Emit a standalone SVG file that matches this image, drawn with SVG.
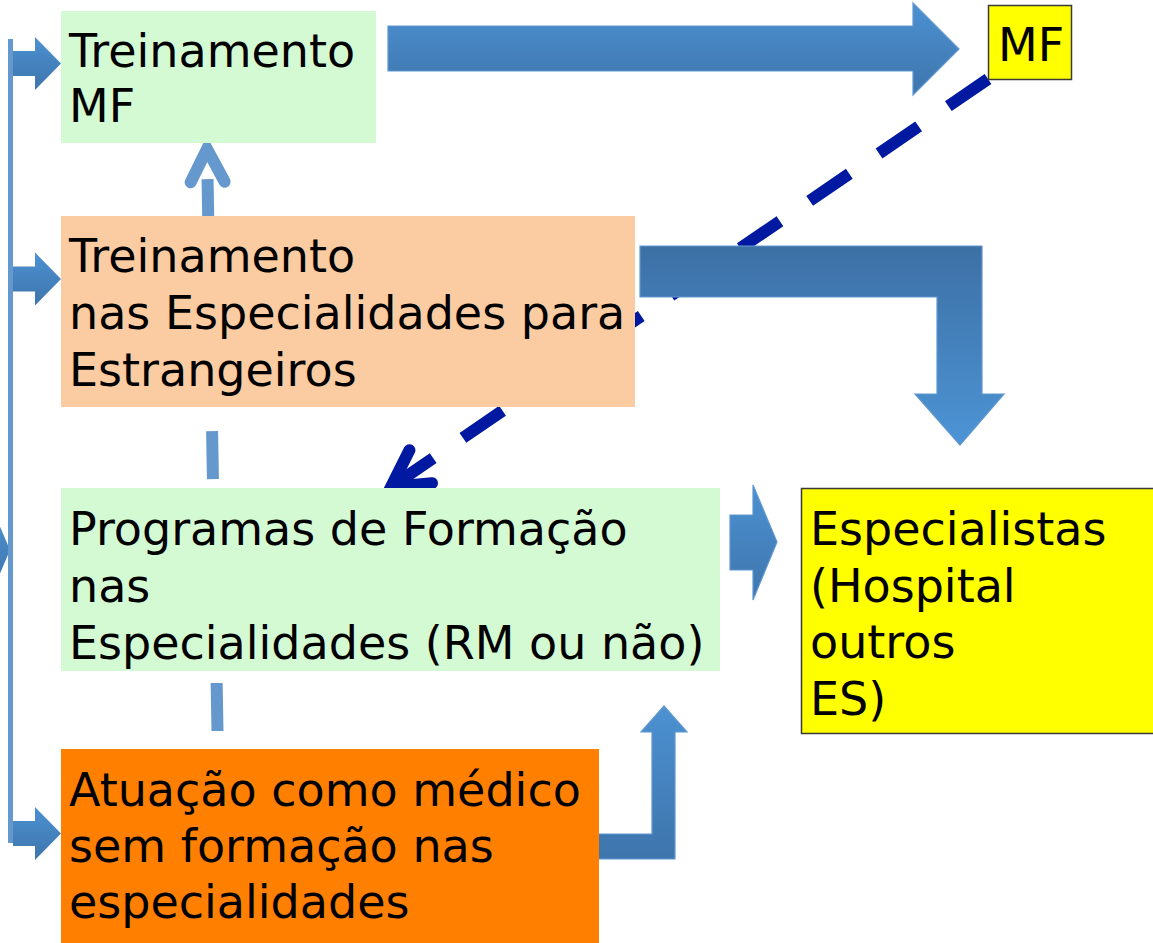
<svg xmlns="http://www.w3.org/2000/svg" width="1153" height="943" viewBox="0 0 1153 943">
<style>
text{font-family:"DejaVu Sans","Verdana",sans-serif;font-size:46px;fill:#000}
.green{fill:#D4FAD4}
.peach{fill:#FBCBA1}
.orange{fill:#FF7F00}
.yellow{fill:#FFFF00;stroke:#3a3a3a;stroke-width:1.5}
.blk{stroke:#5F97D0;stroke-width:1.2}
</style>
<defs>
<linearGradient id="gDown" x1="0" y1="0" x2="0" y2="1">
<stop offset="0" stop-color="#4C91D2"/>
<stop offset="1" stop-color="#3E75AC"/>
</linearGradient>
<linearGradient id="gUp" x1="0" y1="0" x2="0" y2="1">
<stop offset="0" stop-color="#3C70A5"/>
<stop offset="1" stop-color="#4D94D5"/>
</linearGradient>
<marker id="navyHead" markerUnits="userSpaceOnUse" viewBox="-50 -50 100 100" markerWidth="100" markerHeight="100" refX="0" refY="0" orient="auto">
<polyline points="-36,-20 0,0 -36,20" fill="none" stroke="#0019A0" stroke-width="12" stroke-linecap="round" stroke-linejoin="miter"/>
</marker>
<marker id="lightHead" markerUnits="userSpaceOnUse" viewBox="-50 -50 100 100" markerWidth="100" markerHeight="100" refX="0" refY="0" orient="auto">
<polyline points="-33,-17 0,0 -33,17" fill="none" stroke="#6598CD" stroke-width="12" stroke-linecap="round" stroke-linejoin="miter"/>
</marker>
<path id="leftArrow" d="M0,-12.5 H22 V-26.5 L48,0 L22,26.5 V12.5 H0 Z"/>
</defs>

<g id="connectors">
<!-- dashed light-blue vertical arrow from Atuação up to Treinamento MF -->
<line x1="217.5" y1="731" x2="207" y2="149" stroke="#6598CD" stroke-width="12" stroke-dasharray="48 36" marker-end="url(#lightHead)"/>
<!-- navy dashed arrow from MF to Programas -->
<line x1="988" y1="79" x2="391" y2="487" stroke="#0019A0" stroke-width="12" stroke-dasharray="48 36" marker-end="url(#navyHead)"/>
<!-- left bracket line -->
<polygon points="-4,517 10,550 -4,583" fill="url(#gDown)"/>
<rect x="8" y="39" width="5" height="804" fill="#6598CD"/>
<use href="#leftArrow" x="13" y="63.5" fill="url(#gDown)"/>
<use href="#leftArrow" x="13" y="279" fill="url(#gDown)"/>
<use href="#leftArrow" x="13" y="833.5" fill="url(#gDown)"/>
<!-- top big arrow to MF -->
<polygon class="blk" points="388,26 913,26 913,3 959,49 913,95 913,71 388,71" fill="url(#gDown)"/>
<!-- bent arrow to Especialistas -->
<polygon class="blk" points="640,246 982,246 982,394 1004,394 960,445 915,394 937,394 937,297 640,297" fill="url(#gUp)"/>
<!-- arrow Programas to Especialistas -->
<polygon class="blk" points="730,515 753,515 753,485 777,542 753,600 753,570 730,570" fill="url(#gDown)"/>
<!-- bent arrow Atuação up to Programas -->
<polygon class="blk" points="597,834 652,834 652,732 641,732 664,706 687,732 675,732 675,859 597,859" fill="url(#gDown)"/>
</g>

<g id="node-treinamento-mf">
<rect class="green" x="61" y="11" width="315" height="132"/>
<text x="69" y="67">Treinamento</text>
<text x="69" y="122">MF</text>
</g>

<g id="node-treinamento-estrangeiros">
<rect class="peach" x="61" y="216" width="574" height="191"/>
<text x="69" y="272">Treinamento</text>
<text x="69" y="329">nas Especialidades para</text>
<text x="69" y="386">Estrangeiros</text>
</g>

<g id="node-programas">
<rect class="green" x="61" y="488" width="659" height="183"/>
<text x="69" y="545">Programas de Formação</text>
<text x="69" y="602">nas</text>
<text x="69" y="659">Especialidades (RM ou não)</text>
</g>

<g id="node-atuacao">
<rect class="orange" x="61" y="749" width="538" height="194"/>
<text x="69" y="806">Atuação como médico</text>
<text x="69" y="862">sem formação nas</text>
<text x="69" y="918">especialidades</text>
</g>

<g id="node-mf">
<rect class="yellow" x="988.5" y="5.5" width="83" height="74"/>
<text x="998" y="61">MF</text>
</g>

<g id="node-especialistas">
<rect class="yellow" x="801.5" y="488.5" width="360" height="245"/>
<text x="810" y="545">Especialistas</text>
<text x="810" y="602">(Hospital</text>
<text x="810" y="658">outros</text>
<text x="810" y="715">ES)</text>
</g>
</svg>
